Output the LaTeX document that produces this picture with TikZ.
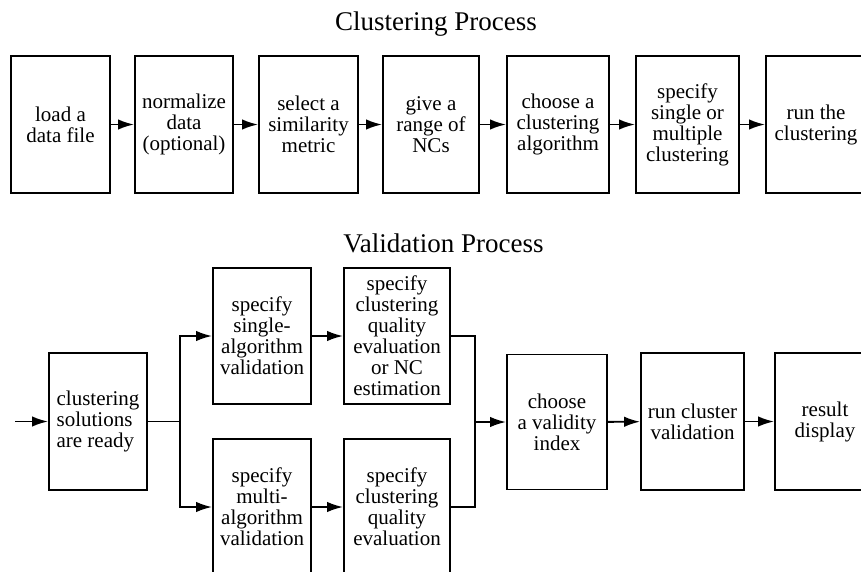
\documentclass[tikz,border=0pt]{standalone}
\usepackage{fontspec}
\setmainfont{Liberation Serif}
\usetikzlibrary{arrows.meta}

\begin{document}
\begin{tikzpicture}[x=1pt, y=-1pt, line width=1.9pt, >={Latex[length=16pt,width=10.5pt]},
    box/.style={draw, rectangle, inner sep=2pt, align=center, minimum width=99, minimum height=137,
      font=\fontsize{21}{21}\selectfont},
    title/.style={font=\fontsize{27}{32}\selectfont}]
        \useasboundingbox (0,0) rectangle (861,571);
        \clip (0,0) rectangle (861,571);

        % clustering
        \node[title] (t1) at (436,24) {Clustering Process};
        \node[box] (c1) at (60.5,124.5) {load a\\data file};
        \node[box, minimum width=98] (c2) at (184,124.5) {normalize\\data\\(optional)};
        \node[box] (c3) at (308.5,124.5) {select a\\similarity\\metric};
        \node[box, minimum width=96] (c4) at (431,124.5) {give a\\range of\\NCs};
        \node[box, minimum width=102] (c5) at (558,124.5) {choose a\\clustering\\algorithm};
        \node[box, minimum width=103] (c6) at (687.5,124.5) {specify\\single or\\multiple\\clustering};
        \node[box, minimum width=100] (c7) at (816,124.5) {run the\\clustering};

        \draw[->] (c1) -- (c2);
        \draw[->] (c2) -- (c3);
        \draw[->] (c3) -- (c4);
        \draw[->] (c4) -- (c5);
        \draw[->] (c5) -- (c6);
        \draw[->] (c6) -- (c7);

        % validation
        \node[title] (t2) at (443.5,243) {Validation Process};
        \node[box, minimum width=98, align=left] (v1) at (98,421.5) {clustering\\solutions\\are ready};
        \node[box, minimum width=98, minimum height=136] (v2) at (262,336) {specify\\single-\\algorithm\\validation};
        \node[box, minimum width=106, minimum height=136] (v3) at (397,336) {specify\\clustering\\quality\\evaluation\\or NC\\estimation};
        \node[box, minimum width=98, minimum height=136] (v4) at (262,507) {specify\\multi-\\algorithm\\validation};
        \node[box, minimum width=106, minimum height=136] (v5) at (397,507) {specify\\clustering\\quality\\evaluation};
        \node[box, minimum width=100, minimum height=135] (v6) at (557,422) {choose\\a validity\\index};
        \node[box, minimum width=103] (v7) at (692.5,421.5) {run cluster\\validation};
        \node[box, minimum width=100] (v8) at (825,421.5) {result\\display};

        \coordinate (in) at (15,421.5);
        \coordinate (split) at (180,421.5);
        \coordinate (merge) at (475,422);

        \draw[->] (in) -- (v1);
        \draw (v1) -- (split);
        \draw[->] (split) |- (v2);
        \draw[->] (split) |- (v4);
        \draw[->] (v2) -- (v3);
        \draw[->] (v4) -- (v5);
        \draw (v3) -| (merge);
        \draw (v5) -| (merge);
        \draw[->] (merge) -- (v6);
        \draw[->] (v6) -- (v7);
        \draw[->] (v7) -- (v8);
      \end{tikzpicture}
\end{document}
